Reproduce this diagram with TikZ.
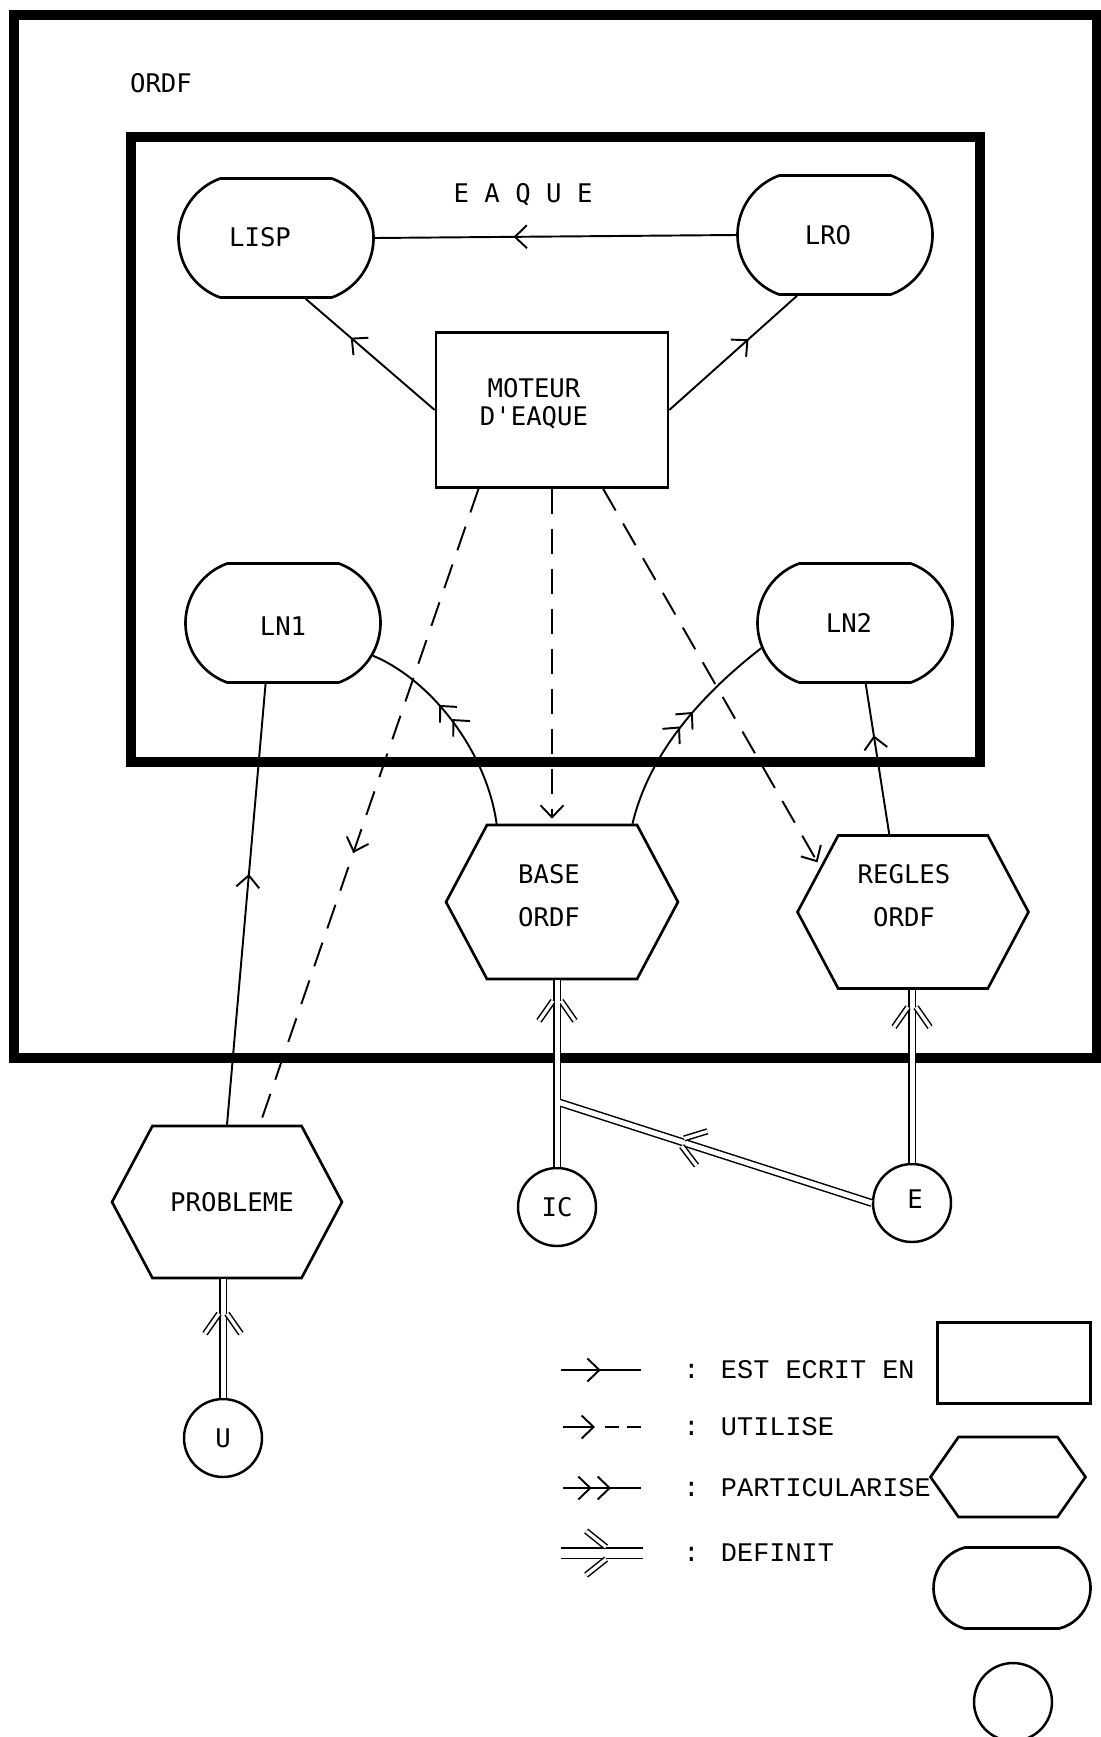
\documentclass[tikz,border=0pt]{standalone}
\usepackage{fontspec}
\newfontfamily\tracefont{DejaVu Sans Mono}
\newfontfamily\frappefont{Liberation Mono}
\usetikzlibrary{arrows.meta,decorations.markings,shapes.misc,shapes.symbols}

\begin{document}
\begin{tikzpicture}[x=0.02cm, y=-0.02cm,
    >={Straight Barb[length=0.24cm,width=0.46cm,sep=0.1cm]},
    every node/.style={font=\tracefont\fontsize{14.6}{16}\selectfont, inner sep=0pt},
    cadre/.style={line width=0.2cm},
    langage/.style={draw, line width=1.5pt, rounded rectangle, rounded rectangle arc length=140,
        minimum width=3.9cm, minimum height=2.38cm},
    hexa/.style={draw, line width=1.5pt, signal, signal to=east and west, signal pointer angle=#1},
    deux lignes/.style={align=center, font=\tracefont\fontsize{14.6}{24.5}\selectfont},
    rond/.style={draw, circle, line width=1.4pt, minimum size=1.56cm},
    ecrit/.style={line width=1.1pt, decoration={markings, mark=at position #1 with {\arrow{>}}},
        postaction={decorate}},
    utilise/.style={line width=1.1pt, dash pattern=on 0.5cm off 0.3cm},
    particularise/.style={line width=1.1pt, decoration={markings, mark=at position #1 with {\arrow{>>}}},
        postaction={decorate}},
    barbe/.style={double, double distance=0.065cm, line width=0.03cm},
    definit/.style={double, double distance=0.1cm, line width=0.03cm,
        decoration={markings, mark=at position #1 with {
            \draw[barbe] (0,0.08cm) -- (-0.4cm,0.36cm);
            \draw[barbe] (0,-0.08cm) -- (-0.4cm,-0.36cm);}},
        postaction={decorate}},
    definit legende/.style={double, double distance=0.18cm, line width=0.03cm,
        decoration={markings, mark=at position #1 with {
            \draw[barbe] (0,0.12cm) -- (-0.4cm,0.44cm);
            \draw[barbe] (0,-0.12cm) -- (-0.4cm,-0.44cm);}},
        postaction={decorate}},
    legende/.style={font=\frappefont\fontsize{15.3}{16}\selectfont, anchor=west}]
    \useasboundingbox (0,0) rectangle (1101,1737);

    % cadres
    \draw[cadre] (14,15) rectangle (1097,1058);
    \draw[cadre] (131,137) rectangle (980,762);
    \node (ordf) at (161,83) {ORDF};
    \node (eaque) at (523,195) {E A Q U E};

    % langages
    \node[langage] (lisp) at (276,238) {};
    \node (lisp-nom) at (260,237) {LISP};
    \node[langage] (lro) at (835,235) {};
    \node (lro-nom) at (828,235) {LRO};
    \node[langage] (ln1) at (283,623) {};
    \node (ln1-nom) at (283,626) {LN1};
    \node[langage] (ln2) at (855,623) {};
    \node (ln2-nom) at (849,623) {LN2};

    % moteur
    \node[draw, line width=1.5pt, minimum width=4.64cm, minimum height=3.1cm] (moteur) at (552,410) {};
    \node[align=center] (moteur-nom) at (534,404) {MOTEUR\\D'EAQUE};

    % bases
    \node[hexa=124, minimum width=4.64cm, minimum height=3.08cm] (base) at (562,902) {};
    \node[deux lignes] (base-nom) at (549,896) {BASE\\ORDF};
    \node[hexa=124, minimum width=4.62cm, minimum height=3.06cm] (regles) at (913,912) {};
    \node[deux lignes] (regles-nom) at (904,896) {REGLES\\ORDF};
    \node[hexa=124, minimum width=4.6cm, minimum height=3.04cm] (probleme) at (227,1202) {};
    \node (probleme-nom) at (232,1202) {PROBLEME};

    % acteurs
    \node[rond] (u) at (223,1438) {U};
    \node[rond] (ic) at (557,1207) {IC};
    \node[rond] (e) at (912,1203) {};
    \node (e-nom) at (915,1199) {E};
    \path (ic.north) ++(0,-65) coordinate (jonction);

    % est ecrit en
    \draw[ecrit=0.63] (lro.west) -- (lisp.east);
    \draw[ecrit=0.68] (moteur.west) -- (lisp.-64);
    \draw[ecrit=0.65] (moteur.east) -- (lro.-122);
    \draw[ecrit=0.58] (probleme.north) -- (ln1.-106);
    \draw[ecrit=0.69] (regles.107) -- (ln2.-80);

    % utilise
    \draw[utilise, ecrit=0.58] (moteur.-133) -- (probleme.67);
    \draw[utilise, ->] (moteur.south) -- (moteur.south |- base.north);
    \draw[utilise, ->] (moteur.-57) -- (regles.154);

    % particularise
    \draw[particularise=0.64] (base.130) .. controls +(-10,-73) and +(58,24) .. (ln1.-20);
    \draw[particularise=0.6] (base.48) .. controls +(17,-72) and +(-58,45) .. (ln2.195);

    % definit
    \draw[definit=0.71] (u.north) -- (u.north |- probleme.south);
    \draw[definit=0.89] (ic.north) -- (ic.north |- base.south);
    \draw[definit=0.9] (e.north) -- (e.north |- regles.south);
    \draw[definit=0.6] (e.west) -- (jonction);
    \draw[white, line width=0.1cm] (ic.north) -- (ic.north |- base.south);

    % legende
    \coordinate (leg1a) at (561,1370);
    \coordinate (leg1b) at (641,1370);
    \coordinate (leg2a) at (563,1427);
    \coordinate (leg2m) at (600,1427);
    \coordinate (leg2b) at (641,1427);
    \coordinate (leg3a) at (563,1488);
    \coordinate (leg3b) at (641,1488);
    \coordinate (leg4a) at (561,1553);
    \coordinate (leg4b) at (643,1553);
    \draw[ecrit=0.56] (leg1a) -- (leg1b);
    \draw[line width=1.1pt, ->] (leg2a) -- (leg2m);
    \draw[line width=1.1pt, dash pattern=on 0.28cm off 0.16cm, shorten <=0.1cm] (leg2m) -- (leg2b);
    \draw[particularise=0.68] (leg3a) -- (leg3b);
    \draw[definit legende=0.55] (leg4a) -- (leg4b);
    \node[legende] (t-ecrit) at (683,1370) {: EST ECRIT EN};
    \node[legende] (t-utilise) at (683,1427) {: UTILISE};
    \node[legende] (t-part) at (683,1488) {: PARTICULARISE};
    \node[legende] (t-definit) at (683,1553) {: DEFINIT};

    \node[draw, line width=1.5pt, minimum width=3.06cm, minimum height=1.62cm] (leg-boite) at (1014,1363) {};
    \node[hexa=110, minimum width=3.1cm, minimum height=1.6cm] (leg-hexa) at (1008,1477) {};
    \node[langage, minimum width=3.14cm, minimum height=1.62cm, rounded rectangle arc length=150]
        (leg-langage) at (1012,1588) {};
    \node[rond] (leg-rond) at (1013,1702) {};
\end{tikzpicture}
\end{document}
